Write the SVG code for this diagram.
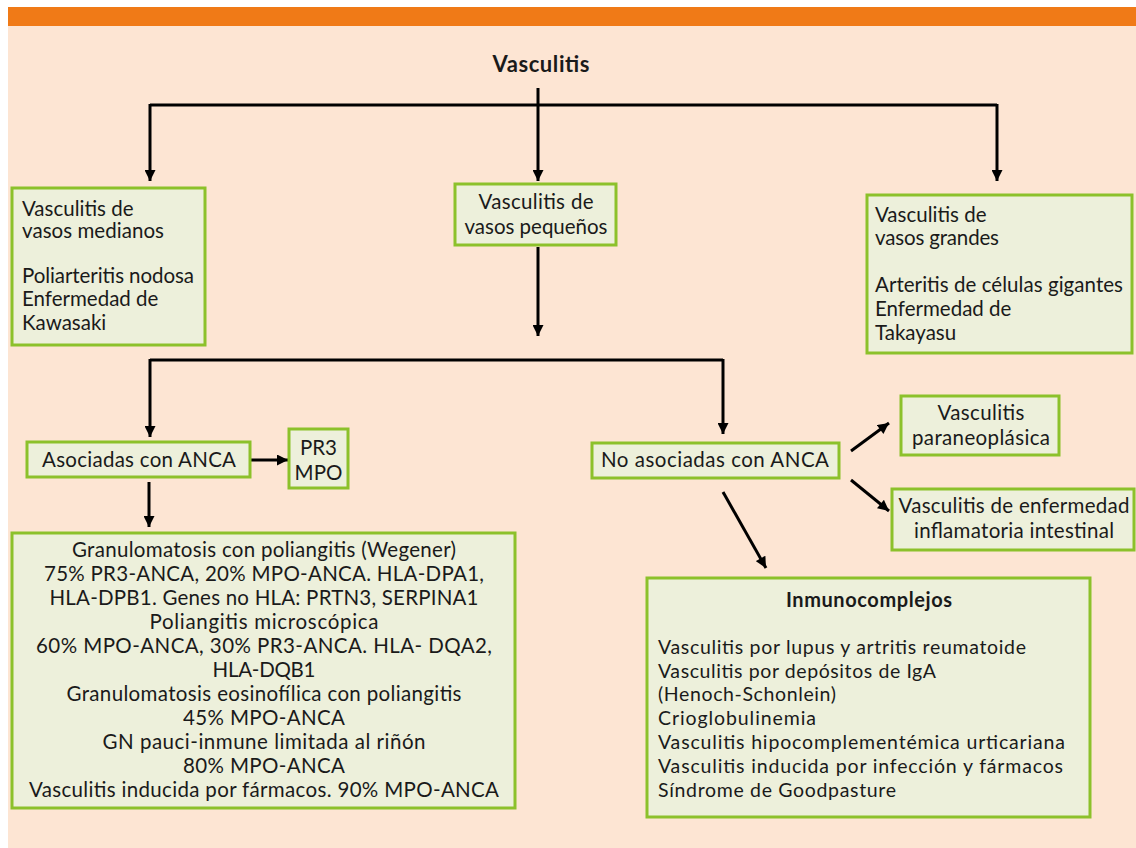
<svg xmlns="http://www.w3.org/2000/svg" width="1136" height="848" viewBox="0 0 1136 848">
<defs>
<marker id="ah" viewBox="0 0 10 10" refX="10" refY="5" markerWidth="12" markerHeight="11" markerUnits="userSpaceOnUse" orient="auto">
<path d="M0,0 L10,5 L0,10 Z" fill="#000"/>
</marker>
<style>
.box{fill:#EDF0DB;stroke:#8CC12B;stroke-width:3}
.t{font-family:Lato,"Open Sans","Liberation Sans",sans-serif;font-size:20.5px;fill:#1a1a1a}
.s{font-size:19.5px}
.c{text-anchor:middle}
.b{font-weight:bold}
.ln{fill:none;stroke:#000;stroke-width:3}
.ar{fill:none;stroke:#000;stroke-width:3;marker-end:url(#ah)}
</style>
</defs>
<rect x="0" y="0" width="1136" height="848" fill="#fff"/>
<rect x="8" y="26" width="1128" height="822" fill="#FDE5D3"/>
<rect x="8" y="7" width="1128" height="19" fill="#F07A17"/>

<g id="title"><text class="t c b" x="541" y="72" style="font-size:22px" textLength="97">Vasculitis</text></g>

<g id="connectors">
<path class="ln" d="M538,88 V105 M150,105 H997"/>
<path class="ar" d="M150,104 V181"/>
<path class="ar" d="M538,104 V181"/>
<path class="ar" d="M997,104 V181"/>
<path class="ar" d="M538,247 V336"/>
<path class="ln" d="M150,360 H723"/>
<path class="ar" d="M150,359 V437"/>
<path class="ar" d="M723,359 V434"/>
<path class="ar" d="M251,460 H288"/>
<path class="ar" d="M149,482 V527"/>
<path class="ar" d="M851,451 L889,423"/>
<path class="ar" d="M851,480 L889,511"/>
<path class="ar" d="M723,492 L766,568"/>
</g>

<g id="medianos">
<rect class="box" x="12" y="188" width="193" height="157"/>
<text class="t" x="22" y="216">Vasculitis de</text>
<text class="t" x="22" y="238" textLength="142">vasos medianos</text>
<text class="t" x="22" y="283" textLength="172">Poliarteritis nodosa</text>
<text class="t" x="22" y="306">Enfermedad de</text>
<text class="t" x="22" y="330">Kawasaki</text>
</g>

<g id="pequenos">
<rect class="box" x="455" y="184" width="161" height="61"/>
<text class="t c" x="536" y="209" textLength="115">Vasculitis de</text>
<text class="t c" x="536" y="234" textLength="143">vasos pequeños</text>
</g>

<g id="grandes">
<rect class="box" x="867" y="195" width="265" height="158"/>
<text class="t" x="875" y="222">Vasculitis de</text>
<text class="t" x="875" y="245" textLength="124">vasos grandes</text>
<text class="t" x="875" y="292" textLength="248">Arteritis de células gigantes</text>
<text class="t" x="875" y="316">Enfermedad de</text>
<text class="t" x="875" y="340">Takayasu</text>
</g>

<g id="asociadas">
<rect class="box" x="27" y="442" width="223" height="35"/>
<text class="t c" x="139" y="467" textLength="194">Asociadas con ANCA</text>
</g>

<g id="pr3mpo">
<rect class="box" x="289" y="429" width="59" height="59"/>
<text class="t c" x="318.5" y="455">PR3</text>
<text class="t c" x="318.5" y="480" textLength="48">MPO</text>
</g>

<g id="anca-list">
<rect class="box" x="12" y="533" width="503" height="275"/>
<text class="t c" x="264" y="557" textLength="384">Granulomatosis con poliangitis (Wegener)</text>
<text class="t c" x="264" y="581" textLength="440">75% PR3-ANCA, 20% MPO-ANCA. HLA-DPA1,</text>
<text class="t c" x="264" y="605" textLength="429">HLA-DPB1. Genes no HLA: PRTN3, SERPINA1</text>
<text class="t c" x="264" y="629" textLength="229">Poliangitis microscópica</text>
<text class="t c" x="264" y="653" textLength="456">60% MPO-ANCA, 30% PR3-ANCA. HLA- DQA2,</text>
<text class="t c" x="264" y="677" textLength="103">HLA-DQB1</text>
<text class="t c" x="264" y="701" textLength="395">Granulomatosis eosinofílica con poliangitis</text>
<text class="t c" x="264" y="725" textLength="162">45% MPO-ANCA</text>
<text class="t c" x="264" y="749" textLength="323">GN pauci-inmune limitada al riñón</text>
<text class="t c" x="264" y="773" textLength="162">80% MPO-ANCA</text>
<text class="t c" x="264" y="797" textLength="470">Vasculitis inducida por fármacos. 90% MPO-ANCA</text>
</g>

<g id="no-asociadas">
<rect class="box" x="592" y="443" width="247" height="35"/>
<text class="t c" x="715" y="467" textLength="228">No asociadas con ANCA</text>
</g>

<g id="paraneoplasica">
<rect class="box" x="901" y="396" width="158" height="59"/>
<text class="t c" x="981" y="420" textLength="87">Vasculitis</text>
<text class="t c" x="981" y="445" textLength="138">paraneoplásica</text>
</g>

<g id="intestinal">
<rect class="box" x="892" y="489" width="242" height="61"/>
<text class="t c" x="1014" y="513" textLength="231">Vasculitis de enfermedad</text>
<text class="t c" x="1014" y="538" textLength="200">inflamatoria intestinal</text>
</g>

<g id="inmunocomplejos">
<rect class="box" x="647" y="578" width="443" height="239"/>
<text class="t c b" x="869" y="607" style="font-size:20px" textLength="166">Inmunocomplejos</text>
<text class="t s" x="658" y="654" textLength="368">Vasculitis por lupus y artritis reumatoide</text>
<text class="t s" x="658" y="678" textLength="278">Vasculitis por depósitos de IgA</text>
<text class="t s" x="658" y="701" textLength="178">(Henoch-Schonlein)</text>
<text class="t s" x="658" y="725" textLength="158">Crioglobulinemia</text>
<text class="t s" x="658" y="749" textLength="407">Vasculitis hipocomplementémica urticariana</text>
<text class="t s" x="658" y="773" textLength="405">Vasculitis inducida por infección y fármacos</text>
<text class="t s" x="658" y="797" textLength="238">Síndrome de Goodpasture</text>
</g>
</svg>
